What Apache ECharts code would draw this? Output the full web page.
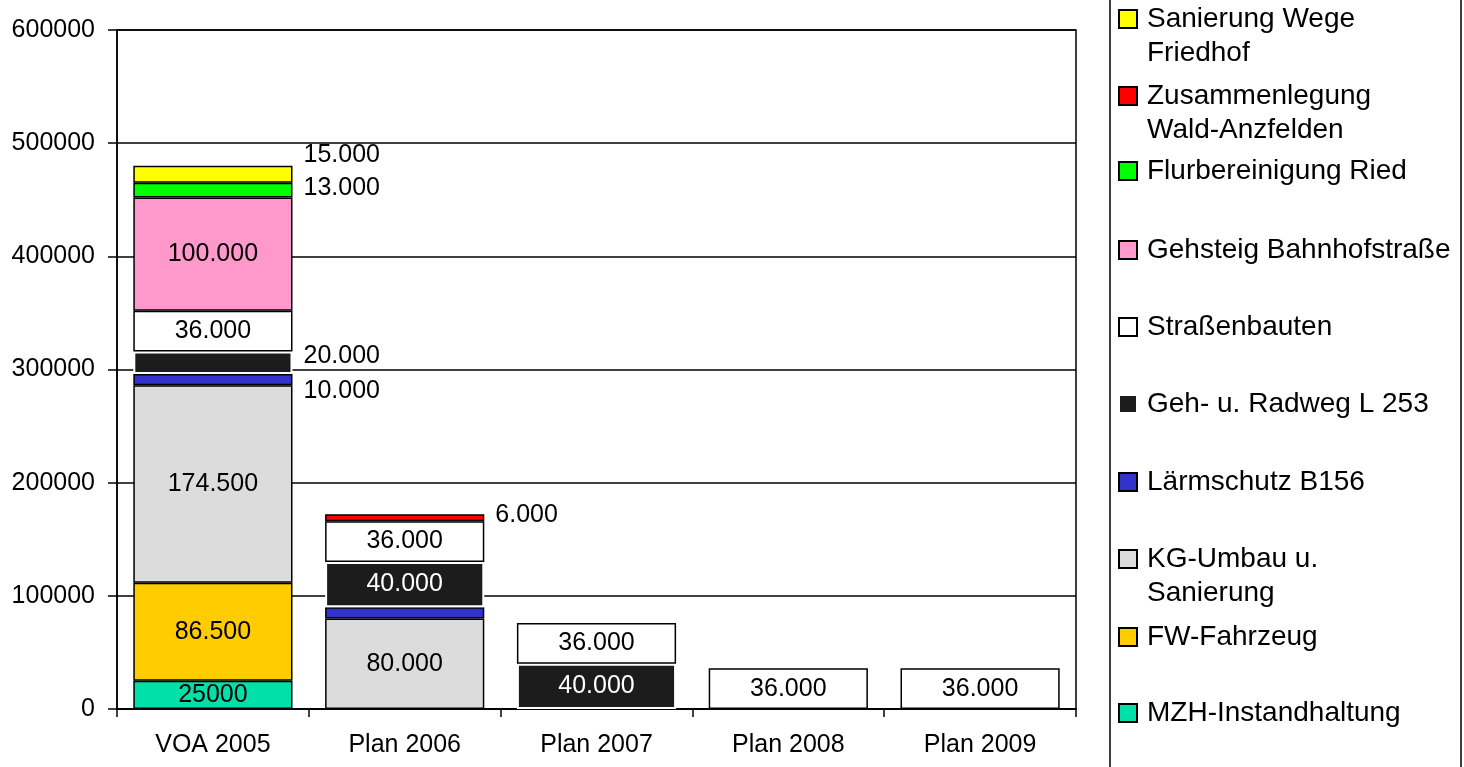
<!DOCTYPE html>
<html>
<head>
<meta charset="utf-8">
<script src="https://cdn.jsdelivr.net/npm/echarts@6/dist/echarts.min.js"></script>
<style>
html,body{margin:0;padding:0;background:#fff;}
#chart{width:1464px;height:767px;}
</style>
</head>
<body>
<div id="chart"></div>
<script>
const categories = ['VOA 2005', 'Plan 2006', 'Plan 2007', 'Plan 2008', 'Plan 2009'];
const yTicks = [0, 100000, 200000, 300000, 400000, 500000, 600000];

// series values, stack order bottom -> top
const mzhInstandhaltung   = [25000, null, null, null, null];
const fwFahrzeug          = [86500, null, null, null, null];
const kgUmbau             = [174500, 80000, null, null, null];
const laermschutz         = [10000, 10000, null, null, null];
const gehRadweg           = [20000, 40000, 40000, null, null];
const strassenbauten      = [36000, 36000, 36000, 36000, 36000];
const gehsteig            = [100000, null, null, null, null];
const flurbereinigung     = [13000, null, null, null, null];
const zusammenlegung      = [null, 6000, null, null, null];
const sanierungWege       = [15000, null, null, null, null];

const seriesNames = [
  'MZH-Instandhaltung', 'FW-Fahrzeug', 'KG-Umbau u. Sanierung', 'Lärmschutz B156',
  'Geh- u. Radweg L 253', 'Straßenbauten', 'Gehsteig Bahnhofstraße', 'Flurbereinigung Ried',
  'Zusammenlegung Wald-Anzfelden', 'Sanierung Wege Friedhof'
];
const seriesValues = [
  mzhInstandhaltung, fwFahrzeug, kgUmbau, laermschutz, gehRadweg,
  strassenbauten, gehsteig, flurbereinigung, zusammenlegung, sanierungWege
];
const colors = ['#00e0a8', '#ffcc00', '#dcdcdc', '#3333cc', '#1c1c1c',
  '#ffffff', '#ff99cc', '#00ff00', '#ff0000', '#ffff00'];

// legend display text (line breaks like the reference)
const legendText = {
  'Sanierung Wege Friedhof': 'Sanierung Wege\nFriedhof',
  'Zusammenlegung Wald-Anzfelden': 'Zusammenlegung\nWald-Anzfelden',
  'KG-Umbau u. Sanierung': 'KG-Umbau u.\nSanierung'
};
// legend icon vertical centres (px)
const legendY = {
  'Sanierung Wege Friedhof': 19, 'Zusammenlegung Wald-Anzfelden': 96,
  'Flurbereinigung Ried': 171, 'Gehsteig Bahnhofstraße': 250, 'Straßenbauten': 327,
  'Geh- u. Radweg L 253': 404, 'Lärmschutz B156': 482, 'KG-Umbau u. Sanierung': 559,
  'FW-Fahrzeug': 637, 'MZH-Instandhaltung': 713
};

// labels placed beside the bar: [series, category index, vertical offset]
const sideLabels = [
  ['Sanierung Wege Friedhof', 0, -19],
  ['Flurbereinigung Ried', 0, -2],
  ['Geh- u. Radweg L 253', 0, -7],
  ['Lärmschutz B156', 0, 11],
  ['Zusammenlegung Wald-Anzfelden', 1, -3]
];
const hiddenLabels = [['Lärmschutz B156', 1]];

const FONT = '"Liberation Sans", Arial, sans-serif';

function fmt(name, v) {
  if (name === 'MZH-Instandhaltung') return String(v);
  return String(v).replace(/\B(?=(\d{3})+(?!\d))/g, '.');
}

const series = seriesNames.map((name, si) => {
  const isDark = name === 'Geh- u. Radweg L 253';
  const data = seriesValues[si].map((v, ci) => {
    if (v == null) return null;
    const item = { value: v };
    const side = sideLabels.find(s => s[0] === name && s[1] === ci);
    const hid = hiddenLabels.find(s => s[0] === name && s[1] === ci);
    if (hid) {
      item.label = { show: false };
    } else if (side) {
      item.label = { show: true, position: 'right', distance: 11, offset: [0, side[2]], color: '#000' };
    }
    return item;
  });
  return {
    name: name,
    type: 'bar',
    stack: 'total',
    barWidth: '83%',
    data: data,
    itemStyle: {
      color: colors[si],
      borderColor: isDark ? '#ffffff' : '#000000',
      borderWidth: isDark ? 2 : 1.5
    },
    label: {
      show: true,
      position: 'inside',
      color: isDark ? '#ffffff' : '#000000',
      fontFamily: FONT,
      fontSize: 25,
      formatter: p => fmt(name, p.value)
    },
    emphasis: { disabled: true }
  };
});

const legends = seriesNames.map(name => {
  const multi = !!legendText[name];
  const lh = 34;
  const c = legendY[name];
  return {
    data: [name],
    orient: 'vertical',
    left: 1118,
    top: multi ? c - 1.5 * lh : c - lh / 2,
    padding: 0,
    itemWidth: 18,
    itemHeight: 18,
    icon: 'rect',
    selectedMode: false,
    textStyle: {
      fontFamily: FONT,
      fontSize: 28,
      color: '#000',
      lineHeight: lh,
      padding: [0, 0, 0, 5]
    },
    formatter: n => multi ? '\n' + legendText[n] : n
  };
});

const chart = echarts.init(document.getElementById('chart'), null, { renderer: 'canvas' });
chart.setOption({
  backgroundColor: '#ffffff',
  animation: false,
  grid: {
    left: 117, right: 388, top: 30, bottom: 58,
    show: true, borderColor: '#000', borderWidth: 1.5, backgroundColor: 'transparent'
  },
  legend: legends,
  graphic: [{
    type: 'rect',
    shape: { x: 1110, y: -5, width: 351, height: 780 },
    style: { fill: 'none', stroke: '#000', lineWidth: 1.5 },
    silent: true,
    z: -1
  }],
  xAxis: {
    type: 'category',
    data: categories,
    axisLine: { lineStyle: { color: '#000', width: 1.5 } },
    axisTick: { show: true, alignWithLabel: false, length: 8, lineStyle: { color: '#000', width: 1.5 } },
    axisLabel: { color: '#000', fontFamily: FONT, fontSize: 25, margin: 24 },
    splitLine: { show: false }
  },
  yAxis: {
    type: 'value',
    min: yTicks[0],
    max: yTicks[yTicks.length - 1],
    interval: yTicks[1] - yTicks[0],
    axisLine: { show: true, lineStyle: { color: '#000', width: 1.5 } },
    axisTick: { show: true, length: 9, lineStyle: { color: '#000', width: 1.5 } },
    axisLabel: { color: '#000', fontFamily: FONT, fontSize: 25, margin: 22, formatter: v => String(v) },
    splitLine: { show: true, lineStyle: { color: '#000', width: 1.5 } }
  },
  series: series
});
</script>
</body>
</html>
